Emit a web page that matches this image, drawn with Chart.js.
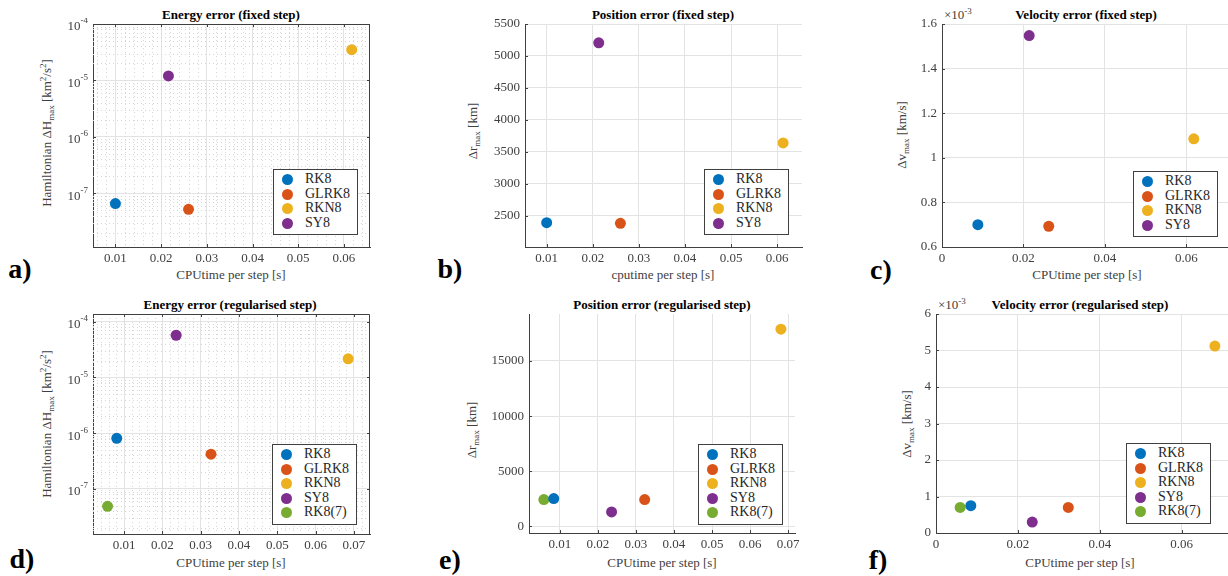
<!DOCTYPE html>
<html>
<head>
<meta charset="utf-8">
<script src="https://cdn.jsdelivr.net/npm/chart.js@4.4.1/dist/chart.umd.min.js"></script>
<style>
html, body { margin:0; padding:0; background:#fff; }
body { width:1228px; height:576px; overflow:hidden; position:relative; font-family:'Liberation Serif','Times New Roman',serif; }
canvas { position:absolute; }
.t { position:absolute; white-space:nowrap; transform:translate(-50%,-50%); }
.title { font-weight:bold; font-size:13px; color:#000; }
.xl { font-size:13px; color:#404040; }
.yl { font-size:13px; color:#404040; transform:translate(-50%,-50%) rotate(-90deg); }
.pl { font-weight:bold; font-size:28px; color:#000; }
.mult { position:absolute; font-size:13px; color:#404040; white-space:nowrap; }
sub { font-size:9px; vertical-align:-3px; }
sup { font-size:9px; vertical-align:5px; }
.leg { position:absolute; width:83px; border:1px solid #404040; background:#fff; padding:2px 0 4px; font-family:'Liberation Serif','Times New Roman',serif; font-size:14px; color:#262626; }
.leg div { height:14.6px; line-height:14.6px; position:relative; padding-left:31px; }
.leg span { position:absolute; left:8px; top:2px; width:11px; height:11px; border-radius:50%; }
</style>
</head>
<body>

<div class="t title" style="left:231px;top:15px">Energy error (fixed step)</div>
<div class="t title" style="left:663px;top:15px">Position error (fixed step)</div>
<div class="t title" style="left:1086px;top:15px">Velocity error (fixed step)</div>
<div class="t title" style="left:230px;top:305px">Energy error (regularised step)</div>
<div class="t title" style="left:662px;top:305px">Position error (regularised step)</div>
<div class="t title" style="left:1080px;top:305px">Velocity error (regularised step)</div>

<div class="t xl" style="left:231px;top:275px">CPUtime per step [s]</div>
<div class="t xl" style="left:663px;top:275px">cputime per step [s]</div>
<div class="t xl" style="left:1087px;top:275px">CPUtime per step [s]</div>
<div class="t xl" style="left:231px;top:563px">CPUtime per step [s]</div>
<div class="t xl" style="left:662px;top:563px">CPUtime per step [s]</div>
<div class="t xl" style="left:1080px;top:563px">CPUtime per step [s]</div>

<div class="t yl" style="left:47px;top:133px">Hamiltonian ΔH<sub>max</sub> [km<sup>2</sup>/s<sup>2</sup>]</div>
<div class="t yl" style="left:473px;top:131px">Δr<sub>max</sub> [km]</div>
<div class="t yl" style="left:902px;top:135px">Δv<sub>max</sub> [km/s]</div>
<div class="t yl" style="left:47px;top:424px">Hamiltonian ΔH<sub>max</sub> [km<sup>2</sup>/s<sup>2</sup>]</div>
<div class="t yl" style="left:472px;top:430px">Δr<sub>max</sub> [km]</div>
<div class="t yl" style="left:907px;top:424px">Δv<sub>max</sub> [km/s]</div>

<div class="mult" style="left:944px;top:6px">×10<sup>-3</sup></div>
<div class="mult" style="left:938px;top:296px">×10<sup>-3</sup></div>

<div class="t pl" style="left:20px;top:269px">a)</div>
<div class="t pl" style="left:450px;top:269px">b)</div>
<div class="t pl" style="left:881px;top:270px">c)</div>
<div class="t pl" style="left:22px;top:559px">d)</div>
<div class="t pl" style="left:450px;top:560px">e)</div>
<div class="t pl" style="left:878px;top:560px">f)</div>

<script>
// ---------- DATA ----------
const methods = ["RK8", "GLRK8", "RKN8", "SY8", "RK8(7)"];
const methodColors = ["#0072BD", "#D95319", "#EDB120", "#7E2F8E", "#77AC30"];

// fixed step
const cpuEnergyFixed = [0.0100, 0.0260, 0.0617, 0.0216];
const energyFixed = [6.6e-8, 5.2e-8, 3.5e-5, 1.2e-5];
const cpuPositionFixed = [0.0100, 0.0260, 0.0613, 0.0213];
const positionFixed = [2395, 2385, 3640, 5205];
const cpuVelocityFixed = [0.0088, 0.0262, 0.0618, 0.0214];
const velocityFixed = [0.700e-3, 0.693e-3, 1.085e-3, 1.548e-3];

// regularised step
const cpuEnergyReg = [0.0081, 0.0327, 0.0685, 0.0236, 0.0057];
const energyReg = [8.1e-7, 4.2e-7, 2.15e-5, 5.7e-5, 4.9e-8];
const cpuPositionReg = [0.0084, 0.0323, 0.0681, 0.0236, 0.0058];
const positionReg = [2520, 2430, 17880, 1310, 2430];
const cpuVelocityReg = [0.0085, 0.0323, 0.0681, 0.0235, 0.0059];
const velocityReg = [0.75e-3, 0.70e-3, 5.12e-3, 0.30e-3, 0.70e-3];

// tick labels
const cpuTicksFixed = [0.01, 0.02, 0.03, 0.04, 0.05, 0.06];
const cpuTicksReg = [0.01, 0.02, 0.03, 0.04, 0.05, 0.06, 0.07];
const cpuTicksVel = [0, 0.02, 0.04, 0.06];
const energyTicks = [1e-7, 1e-6, 1e-5, 1e-4];
const positionTicksFixed = [2500, 3000, 3500, 4000, 4500, 5000, 5500];
const velocityTicksFixed = [0.6e-3, 0.8e-3, 1.0e-3, 1.2e-3, 1.4e-3, 1.6e-3];
const positionTicksReg = [0, 5000, 10000, 15000];
const velocityTicksReg = [0, 1e-3, 2e-3, 3e-3, 4e-3, 5e-3, 6e-3];

const FONT = "'Liberation Serif', 'Times New Roman', serif";
const AXIS_COLOR = "#404040";
const GRID_COLOR = "#e3e3e3";

const fmtCpu = v => v === 0 ? "0" : v.toFixed(2);
const fmtPlain = v => String(v);
const fmtMilli = v => String(+(v * 1000).toFixed(2));

// rect = plot area in page pixels [left, top, right, bottom]
const panels = [
    { rect: [93, 24, 370, 247], x: cpuEnergyFixed, y: energyFixed, log: true, box: true,
      xr: [0.0051, 0.0657], yr: [1.12e-8, 1e-4], xt: cpuTicksFixed, yt: energyTicks,
      xf: fmtCpu, leg: [273, 169] },
    { rect: [525, 24, 802, 247], x: cpuPositionFixed, y: positionFixed,
      xr: [0.0053, 0.0654], yr: [2014, 5500], xt: cpuTicksFixed, yt: positionTicksFixed,
      xf: fmtCpu, yf: fmtPlain, leg: [704, 169] },
    { rect: [942, 24, 1228, 247], x: cpuVelocityFixed, y: velocityFixed,
      xr: [0, 0.0702], yr: [0.6e-3, 1.6e-3], xt: cpuTicksVel, yt: velocityTicksFixed,
      xf: fmtCpu, yf: fmtMilli, leg: [1133, 171] },
    { rect: [93, 314, 370, 534], x: cpuEnergyReg, y: energyReg, log: true, box: true,
      xr: [0.0019, 0.0742], yr: [1.56e-8, 1.37e-4], xt: cpuTicksReg, yt: energyTicks,
      xf: fmtCpu, leg: [272, 444] },
    { rect: [529, 314, 795, 533], x: cpuPositionReg, y: positionReg,
      xr: [0.0019, 0.0718], yr: [-597, 19255], xt: cpuTicksReg, yt: positionTicksReg,
      xf: fmtCpu, yf: fmtPlain, leg: [698, 444] },
    { rect: [936, 314, 1228, 533], x: cpuVelocityReg, y: velocityReg,
      xr: [0, 0.0713], yr: [0, 6e-3], xt: cpuTicksVel, yt: velocityTicksReg,
      xf: fmtCpu, yf: fmtMilli, leg: [1126, 443] }
];

// ---------- EXTRA DRAWING (minor grid, ticks, box, log labels) ----------
function panelPlugin(p) {
    return {
        id: "panelDeco",
        beforeDatasetsDraw(chart) {
            const ctx = chart.ctx;
            const a = chart.chartArea;
            const xs = chart.scales.x, ys = chart.scales.y;
            ctx.save();
            if (p.log) {
                // dotted minor grid like matlab "grid minor"
                ctx.beginPath();
                ctx.rect(a.left, a.top, a.right - a.left, a.bottom - a.top);
                ctx.clip();
                ctx.strokeStyle = "#d6d6d6";
                ctx.lineWidth = 1;
                ctx.setLineDash([1, 3]);
                const e0 = Math.floor(Math.log10(p.yr[0])), e1 = Math.ceil(Math.log10(p.yr[1]));
                for (let e = e0; e <= e1; e++) {
                    for (let k = 2; k <= 9; k++) {
                        const v = k * Math.pow(10, e);
                        if (v <= p.yr[0] || v >= p.yr[1]) continue;
                        const y = Math.round(ys.getPixelForValue(v)) + 0.5;
                        ctx.beginPath(); ctx.moveTo(a.left, y); ctx.lineTo(a.right, y); ctx.stroke();
                    }
                }
                for (let i = Math.ceil(p.xr[0] / 0.002); i * 0.002 < p.xr[1]; i++) {
                    if (i % 5 === 0) continue;
                    const x = Math.round(xs.getPixelForValue(i * 0.002)) + 0.5;
                    ctx.beginPath(); ctx.moveTo(x, a.top); ctx.lineTo(x, a.bottom); ctx.stroke();
                }
            }
            ctx.restore();
        },
        afterDraw(chart) {
            const ctx = chart.ctx;
            const a = chart.chartArea;
            const xs = chart.scales.x, ys = chart.scales.y;
            ctx.save();
            ctx.strokeStyle = AXIS_COLOR;
            ctx.lineWidth = 1;
            // inward tick marks
            p.xt.forEach(v => {
                const x = Math.round(xs.getPixelForValue(v)) + 0.5;
                ctx.beginPath(); ctx.moveTo(x, a.bottom); ctx.lineTo(x, a.bottom - 3); ctx.stroke();
                if (p.box) { ctx.beginPath(); ctx.moveTo(x, a.top); ctx.lineTo(x, a.top + 3); ctx.stroke(); }
            });
            p.yt.forEach(v => {
                const y = Math.round(ys.getPixelForValue(v)) + 0.5;
                ctx.beginPath(); ctx.moveTo(a.left, y); ctx.lineTo(a.left + 3, y); ctx.stroke();
                if (p.box) { ctx.beginPath(); ctx.moveTo(a.right, y); ctx.lineTo(a.right - 3, y); ctx.stroke(); }
            });
            if (p.box) {
                ctx.beginPath();
                ctx.moveTo(a.left, a.top + 0.5); ctx.lineTo(a.right - 0.5, a.top + 0.5); ctx.lineTo(a.right - 0.5, a.bottom);
                ctx.stroke();
            }
            if (p.log) {
                ctx.fillStyle = AXIS_COLOR;
                ctx.textBaseline = "middle";
                p.yt.forEach(v => {
                    const y = ys.getPixelForValue(v);
                    const ex = String(Math.round(Math.log10(v)));
                    ctx.font = "9px " + FONT;
                    const we = ctx.measureText(ex).width;
                    ctx.font = "13px " + FONT;
                    const wb = ctx.measureText("10").width;
                    const right = a.left - 5;
                    ctx.fillText("10", right - we - wb, y + 3);
                    ctx.font = "9px " + FONT;
                    ctx.fillText(ex, right - we, y - 3);
                });
            }
            ctx.restore();
        }
    };
}

// ---------- CHARTS ----------
function makePanel(p) {
    const [L, T, R, B] = p.rect;
    const yw = 62, pt = 6, pr = 6, xh = 26;
    const W = R - L + yw + pr, H = B - T + pt + xh;
    const cv = document.createElement("canvas");
    cv.width = W; cv.height = H;
    cv.style.left = (L - yw) + "px";
    cv.style.top = (T - pt) + "px";
    cv.style.width = W + "px";
    cv.style.height = H + "px";
    document.body.appendChild(cv);

    const datasets = p.y.map((v, i) => ({
        label: methods[i],
        data: [{ x: p.x[i], y: v }],
        backgroundColor: methodColors[i],
        borderColor: methodColors[i],
        pointRadius: 5.5,
        pointHoverRadius: 5.5,
        pointBorderWidth: 0
    }));

    const tickFont = { family: FONT, size: 13 };

    new Chart(cv, {
        type: "scatter",
        data: { datasets },
        options: {
            responsive: false,
            animation: false,
            devicePixelRatio: 1,
            layout: { padding: { top: pt, right: pr, left: 0, bottom: 0 } },
            plugins: { legend: { display: false }, tooltip: { enabled: false } },
            scales: {
                x: {
                    type: "linear",
                    min: p.xr[0], max: p.xr[1],
                    afterBuildTicks: s => { s.ticks = p.xt.map(v => ({ value: v })); },
                    afterFit: s => { s.height = xh; s.paddingLeft = 0; s.paddingRight = 0; },
                    grid: { color: GRID_COLOR, drawTicks: false },
                    border: { color: AXIS_COLOR, width: 1 },
                    ticks: { autoSkip: false, maxRotation: 0, padding: 4, color: AXIS_COLOR, font: tickFont, callback: v => p.xf(v) }
                },
                y: {
                    type: p.log ? "logarithmic" : "linear",
                    min: p.yr[0], max: p.yr[1],
                    afterBuildTicks: s => { s.ticks = p.yt.map(v => ({ value: v })); },
                    afterFit: s => { s.width = yw; s.paddingTop = 0; s.paddingBottom = 0; },
                    grid: { color: GRID_COLOR, drawTicks: false },
                    border: { color: AXIS_COLOR, width: 1 },
                    ticks: {
                        display: !p.log, autoSkip: false, padding: 5, color: AXIS_COLOR, font: tickFont,
                        callback: v => p.yf ? p.yf(v) : ""
                    }
                }
            }
        },
        plugins: [panelPlugin(p)]
    });

    // legend box
    const leg = document.createElement("div");
    leg.className = "leg";
    leg.style.left = p.leg[0] + "px";
    leg.style.top = p.leg[1] + "px";
    p.y.forEach((v, i) => {
        const row = document.createElement("div");
        row.innerHTML = '<span style="background:' + methodColors[i] + '"></span>' + methods[i];
        leg.appendChild(row);
    });
    document.body.appendChild(leg);
}

panels.forEach(makePanel);
</script>
</body>
</html>
